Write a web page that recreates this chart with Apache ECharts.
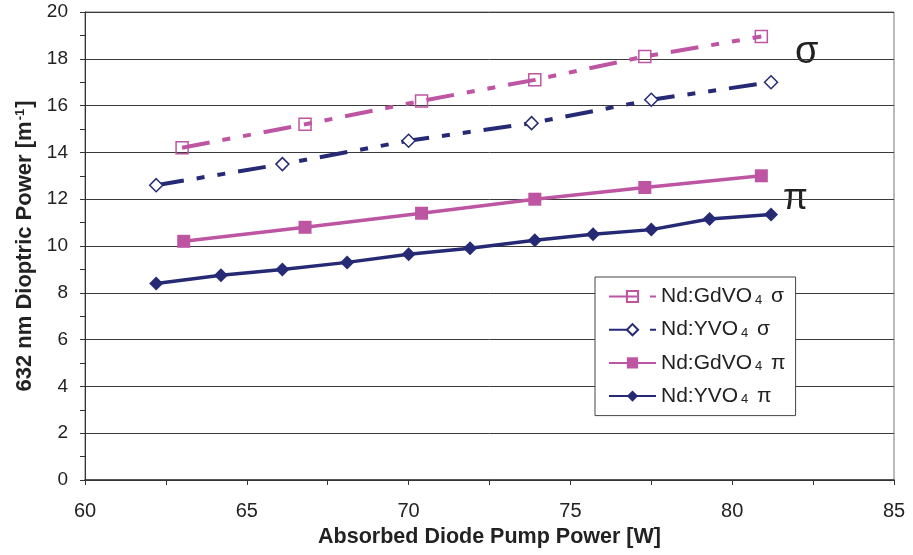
<!DOCTYPE html>
<html>
<head>
<meta charset="utf-8">
<script src="https://cdn.jsdelivr.net/npm/echarts@6/dist/echarts.min.js"></script>
<style>
  html, body { margin: 0; padding: 0; background: #fff; }
  #chart { width: 913px; height: 555px; }
</style>
</head>
<body>
<div id="chart"></div>
<script>
// Absorbed pump power [W] and 632 nm dioptric power [1/m] for each crystal / polarisation
const gdSigmaX = [63.0, 66.8, 70.4, 73.9, 77.3, 80.9];
const gdSigmaY = [14.2, 15.2, 16.2, 17.1, 18.1, 18.95];
const ySigmaX = [62.2, 66.1, 70.0, 73.8, 77.5, 81.2];
const ySigmaY = [12.6, 13.5, 14.5, 15.25, 16.25, 17.0];
const gdPiX = [63.05, 66.8, 70.4, 73.9, 77.3, 80.9];
const gdPiY = [10.2, 10.8, 11.4, 12.0, 12.5, 13.0];
const yPiX = [62.2, 64.2, 66.1, 68.1, 70.0, 71.9, 73.9, 75.7, 77.5, 79.3, 81.2];
const yPiY = [8.4, 8.75, 9.0, 9.3, 9.65, 9.9, 10.25, 10.5, 10.7, 11.15, 11.35];

const seriesNames = ['Nd:GdVO4 σ', 'Nd:YVO4 σ', 'Nd:GdVO4 π', 'Nd:YVO4 π'];
const xRange = [60, 85];
const yRange = [0, 20];

const magenta = '#bd55a3';
const navy = '#262a74';
// long dash, dot, dot
const dashPattern = [28, 13, 8, 13, 8, 13];

const pairs = (xs, ys) => xs.map((x, i) => [x, ys[i]]);

const chart = echarts.init(document.getElementById('chart'));
const font = 'Liberation Sans, Arial, sans-serif';

chart.setOption({
  animation: false,
  textStyle: { fontFamily: font },
  grid: {
    left: 85, right: 19, top: 12, bottom: 75,
    show: true, borderColor: '#777', borderWidth: 1
  },
  xAxis: {
    type: 'value', min: xRange[0], max: xRange[1], interval: 5,
    name: 'Absorbed Diode Pump Power [W]',
    nameLocation: 'middle', nameGap: 41,
    nameTextStyle: { fontSize: 21.5, fontWeight: 'bold', color: '#222', fontFamily: font },
    axisLine: { show: true, lineStyle: { color: '#333', width: 1.5 } },
    axisTick: { show: true, length: 5, lineStyle: { color: '#333' } },
    minorTick: { show: true, splitNumber: 2, length: 5, lineStyle: { color: '#333' } },
    axisLabel: { fontSize: 20, color: '#222', margin: 21 },
    splitLine: { show: false }
  },
  yAxis: {
    type: 'value', min: yRange[0], max: yRange[1], interval: 2,
    name: '{t|632 nm Dioptric Power [m}{sup|-1}{t|]}',
    nameLocation: 'middle', nameGap: 44, nameRotate: 90,
    nameTextStyle: {
      rich: {
        t: { fontSize: 22, fontWeight: 'bold', color: '#222', fontFamily: font },
        sup: { fontSize: 13, fontWeight: 'bold', color: '#222', fontFamily: font, verticalAlign: 'top', padding: [0, 1, 10, 1] }
      }
    },
    axisLine: { show: true, lineStyle: { color: '#333', width: 1 } },
    axisTick: { show: true, length: 5, lineStyle: { color: '#333' } },
    minorTick: { show: true, splitNumber: 2, length: 5, lineStyle: { color: '#333' } },
    axisLabel: { fontSize: 19, color: '#222', margin: 17 },
    splitLine: { show: true, lineStyle: { color: '#3a3a3a', width: 1 } }
  },
  legend: {
    orient: 'vertical', left: 595, top: 277,
    backgroundColor: '#fff',
    borderColor: '#444', borderWidth: 1,
    padding: [9, 10, 9, 13],
    itemWidth: 47, itemHeight: 14, itemGap: 12.2,
    data: seriesNames,
    formatter: name => {
      const parts = name.split('4');
      return '{a|' + parts[0] + '}{s|4}{a|' + parts[1] + '}';
    },
    textStyle: {
      rich: {
        a: { fontSize: 21, lineHeight: 22, color: '#222', fontFamily: font },
        s: { fontSize: 13, lineHeight: 22, color: '#222', fontFamily: font, padding: [7, 3, 0, 3] }
      }
    }
  },
  graphic: [
    { type: 'text', left: 795, top: 34, style: { text: 'σ', fontSize: 38, fill: '#222', fontFamily: font } },
    { type: 'text', left: 783, top: 181, style: { text: 'π', fontSize: 36, fill: '#222', fontFamily: font } }
  ],
  series: [
    {
      name: seriesNames[0], type: 'line', data: pairs(gdSigmaX, gdSigmaY),
      symbol: 'rect', symbolSize: 12,
      lineStyle: { color: magenta, width: 4, type: dashPattern },
      itemStyle: { color: 'rgba(255,255,255,0)', borderColor: magenta, borderWidth: 1.5 },
      z: 3
    },
    {
      name: seriesNames[1], type: 'line', data: pairs(ySigmaX, ySigmaY),
      symbol: 'diamond', symbolSize: 13,
      lineStyle: { color: navy, width: 4, type: dashPattern },
      itemStyle: { color: '#fff', borderColor: navy, borderWidth: 1.5 },
      z: 3
    },
    {
      name: seriesNames[2], type: 'line', data: pairs(gdPiX, gdPiY),
      symbol: 'rect', symbolSize: 13,
      lineStyle: { color: magenta, width: 3.5 },
      itemStyle: { color: magenta },
      z: 3
    },
    {
      name: seriesNames[3], type: 'line', data: pairs(yPiX, yPiY),
      symbol: 'diamond', symbolSize: 14,
      lineStyle: { color: navy, width: 3.5 },
      itemStyle: { color: navy },
      z: 3
    }
  ]
});
</script>
</body>
</html>
